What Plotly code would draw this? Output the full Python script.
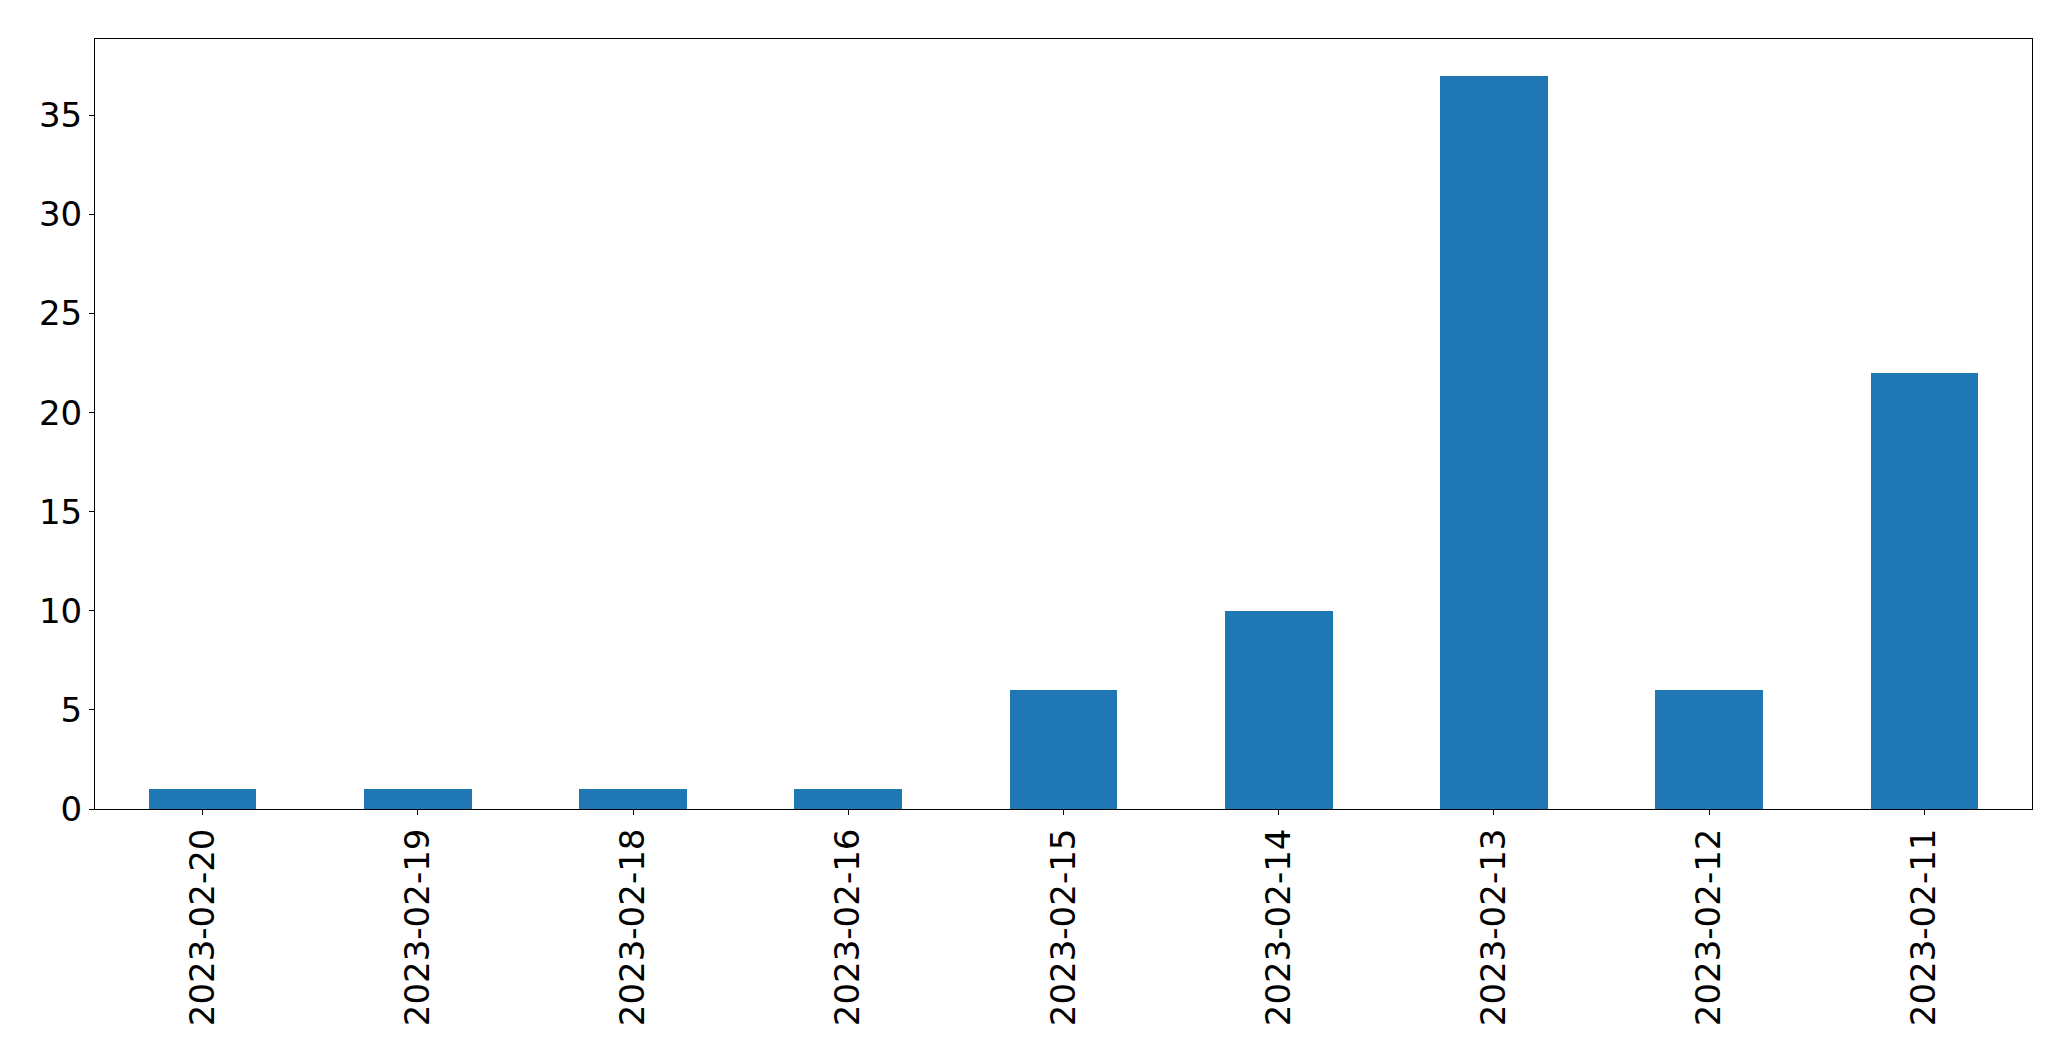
import plotly.graph_objects as go

dates = ["2023-02-20", "2023-02-19", "2023-02-18", "2023-02-16", "2023-02-15",
         "2023-02-14", "2023-02-13", "2023-02-12", "2023-02-11"]
counts = [1, 1, 1, 1, 6, 10, 37, 6, 22]
ytick_vals = [0, 5, 10, 15, 20, 25, 30, 35]

fig = go.Figure(go.Bar(x=dates, y=counts, marker=dict(color="#1f77b4", line=dict(width=0)),
                       width=0.5))

font = dict(family="DejaVu Sans", size=34, color="black")
fig.update_layout(
    width=2055, height=1045,
    margin=dict(l=87, r=31, t=31, b=244),
    plot_bgcolor="white", paper_bgcolor="white",
    showlegend=False,
    bargap=0,
)
fig.update_xaxes(type="category", range=[-0.5, len(dates) - 0.5], tickangle=-90,
                 tickfont=font, ticks="outside", ticklen=5, tickcolor="black", tickwidth=1,
                 showline=True, linecolor="black", linewidth=1, mirror=True,
                 showgrid=False, zeroline=False, automargin=False, ticklabelstandoff=0)
fig.update_yaxes(range=[0, max(counts) * 1.05], tickvals=ytick_vals, tickfont=font,
                 ticks="outside", ticklen=5, tickcolor="black", tickwidth=1,
                 showline=True, linecolor="black", linewidth=1, mirror=True,
                 showgrid=False, zeroline=False, automargin=False, ticklabelstandoff=0)

fig.write_html("out.html")
